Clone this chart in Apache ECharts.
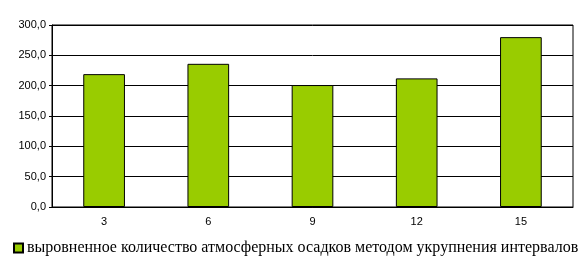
<!DOCTYPE html>
<html><head><meta charset="utf-8">
<script src="https://cdn.jsdelivr.net/npm/echarts@6/dist/echarts.min.js"></script>
<style>html,body{margin:0;padding:0;background:#fff}#c{width:588px;height:268px}</style>
</head><body><div id="c"></div>
<script>
var categories = ['3', '6', '9', '12', '15'];
var values = [219, 236, 201, 212, 280];
var seriesName = 'выровненное количество атмосферных осадков методом укрупнения интервалов';
var yMin = 0, yMax = 300, yStep = 50;

var chart = echarts.init(document.getElementById('c'), null, {renderer: 'canvas'});
chart.setOption({
  animation: false,
  backgroundColor: '#fff',
  grid: {left: 52, right: 15, top: 25, bottom: 61, show: true, borderColor: '#000', borderWidth: 1, backgroundColor: 'transparent'},
  legend: {
    show: true, left: 13, top: 240, padding: 0, itemWidth: 9, itemHeight: 9, itemGap: 4,
    icon: 'rect',
    textStyle: {fontFamily: 'Liberation Serif', fontSize: 16, color: '#000', padding: [0, 0, 0, -1]},
    data: [seriesName]
  },
  xAxis: {
    type: 'category', data: categories,
    axisLine: {lineStyle: {color: '#000', width: 1}},
    axisTick: {show: false},
    axisLabel: {color: '#000', fontFamily: 'Liberation Sans', fontSize: 11, margin: 9}
  },
  yAxis: {
    type: 'value', min: yMin, max: yMax, interval: yStep,
    axisLine: {show: true, lineStyle: {color: '#000', width: 1}},
    axisTick: {show: true, length: 3, lineStyle: {color: '#000'}},
    splitLine: {lineStyle: {color: '#000', width: 1}},
    axisLabel: {color: '#000', fontFamily: 'Liberation Sans', fontSize: 11, margin: 6,
      formatter: function (v) { return v.toFixed(1).replace('.', ','); }}
  },
  series: [{
    name: seriesName, type: 'bar', data: values, barWidth: '40%',
    itemStyle: {color: '#99CC00', borderColor: '#000', borderWidth: 1}
  }]
});
</script></body></html>
